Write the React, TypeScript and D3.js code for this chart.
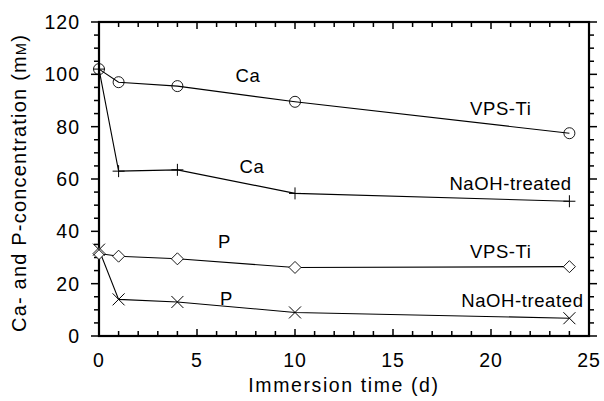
import * as d3 from 'd3';
import React, { useEffect, useRef } from 'react';

// Immersion days
const days = [0, 1, 4, 10, 24];

// Concentrations (mM)
const caVps = [102, 97, 95.5, 89.5, 77.5];
const caNaoh = [102, 63, 63.5, 54.5, 51.5];
const pVps = [31.5, 30.5, 29.5, 26.2, 26.5];
const pNaoh = [33, 14, 13, 9, 6.8];

const xTicks = [0, 5, 10, 15, 20, 25];
const yTicks = [0, 20, 40, 60, 80, 100, 120];

// labels placed next to each curve: [day, value, text]
const labels: [number, number, string][] = [
  [7.6, 97, 'Ca'],
  [20.5, 84.4, 'VPS-Ti'],
  [7.8, 62.3, 'Ca'],
  [21.0, 55.8, 'NaOH-treated'],
  [6.4, 33.6, 'P'],
  [20.5, 29.8, 'VPS-Ti'],
  [6.5, 11.8, 'P'],
  [21.6, 11.1, 'NaOH-treated'],
];

export default function App() {
  const ref = useRef<SVGSVGElement>(null);

  useEffect(() => {
    const svg = d3.select(ref.current);
    svg.selectAll('*').remove();

    const left = 99, right = 589, top = 22, bottom = 336;
    const x = d3.scaleLinear().domain([0, 25]).range([left, right]);
    const y = d3.scaleLinear().domain([0, 120]).range([bottom, top]);
    const font = 'Liberation Sans, Arial, Helvetica, sans-serif';

    const g = svg.append('g');

    // minor + major ticks
    const xMinor = d3.range(0, 26, 1);
    const yMinor = d3.range(0, 121, 5);
    xMinor.forEach(v => {
      const len = v % 5 === 0 ? 7 : 5;
      g.append('line').attr('x1', x(v)).attr('x2', x(v)).attr('y1', bottom).attr('y2', bottom - len)
        .attr('stroke', '#000').attr('stroke-width', 1.5);
      g.append('line').attr('x1', x(v)).attr('x2', x(v)).attr('y1', top).attr('y2', top + len)
        .attr('stroke', '#000').attr('stroke-width', 1.5);
    });
    yMinor.forEach(v => {
      const len = v % 20 === 0 ? 8 : 5;
      g.append('line').attr('x1', left).attr('x2', left - len).attr('y1', y(v)).attr('y2', y(v))
        .attr('stroke', '#000').attr('stroke-width', 1.5);
      g.append('line').attr('x1', right).attr('x2', right + len).attr('y1', y(v)).attr('y2', y(v))
        .attr('stroke', '#000').attr('stroke-width', 1.5);
    });

    // frame
    g.append('rect').attr('x', left).attr('y', top).attr('width', right - left).attr('height', bottom - top)
      .attr('fill', 'none').attr('stroke', '#000').attr('stroke-width', 2.2);

    // tick labels
    xTicks.forEach(v => {
      g.append('text').attr('x', x(v)).attr('y', 367).attr('text-anchor', 'middle')
        .attr('font-family', font).attr('font-size', 19.5).attr('letter-spacing', 1).text(v);
    });
    yTicks.forEach(v => {
      g.append('text').attr('x', 80).attr('y', y(v) + 7).attr('text-anchor', 'end')
        .attr('font-family', font).attr('font-size', 19.5).attr('letter-spacing', 1).text(v);
    });

    // axis titles
    g.append('text').attr('x', 344).attr('y', 392).attr('text-anchor', 'middle')
      .attr('font-family', font).attr('font-size', 19.5).attr('letter-spacing', 1.6).text('Immersion time (d)');
    const yt = g.append('text').attr('transform', 'translate(26,183) rotate(-90)').attr('text-anchor', 'middle')
      .attr('font-family', font).attr('font-size', 20).attr('letter-spacing', 1.2);
    yt.append('tspan').text('Ca- and P-concentration (m');
    yt.append('tspan').attr('font-size', 14.5).text('M');
    yt.append('tspan').text(')');

    const line = d3.line<number>().x((d, i) => x(days[i])).y(d => y(d));
    const series = [caVps, caNaoh, pVps, pNaoh];
    series.forEach(s => {
      g.append('path').attr('d', line(s)).attr('fill', 'none').attr('stroke', '#000').attr('stroke-width', 1.1);
    });

    // markers
    caVps.forEach((v, i) => {
      g.append('circle').attr('cx', x(days[i])).attr('cy', y(v)).attr('r', 5.5)
        .attr('fill', 'none').attr('stroke', '#000').attr('stroke-width', 0.9);
    });
    caNaoh.forEach((v, i) => {
      const cx = x(days[i]), cy = y(v);
      g.append('path').attr('d', `M${cx - 6},${cy}H${cx + 6}M${cx},${cy - 6}V${cy + 6}`)
        .attr('stroke', '#000').attr('stroke-width', 1);
    });
    pVps.forEach((v, i) => {
      const cx = x(days[i]), cy = y(v);
      g.append('path').attr('d', `M${cx},${cy - 6}L${cx + 6},${cy}L${cx},${cy + 6}L${cx - 6},${cy}Z`)
        .attr('fill', '#fff').attr('stroke', '#000').attr('stroke-width', 0.9);
    });
    pNaoh.forEach((v, i) => {
      const cx = x(days[i]), cy = y(v);
      g.append('path').attr('d', `M${cx - 6},${cy - 6}L${cx + 6},${cy + 6}M${cx - 6},${cy + 6}L${cx + 6},${cy - 6}`)
        .attr('stroke', '#000').attr('stroke-width', 1);
    });

    // curve labels
    labels.forEach(([d, v, t]) => {
      g.append('text').attr('x', x(d)).attr('y', y(v)).attr('text-anchor', 'middle')
        .attr('font-family', font).attr('font-size', 18.5).attr('letter-spacing', 0.6).text(t);
    });
  }, []);

  return (
    <svg ref={ref} width={604} height={401} style={{ position: 'absolute', left: 0, top: 0, background: '#fff' }} />
  );
}
